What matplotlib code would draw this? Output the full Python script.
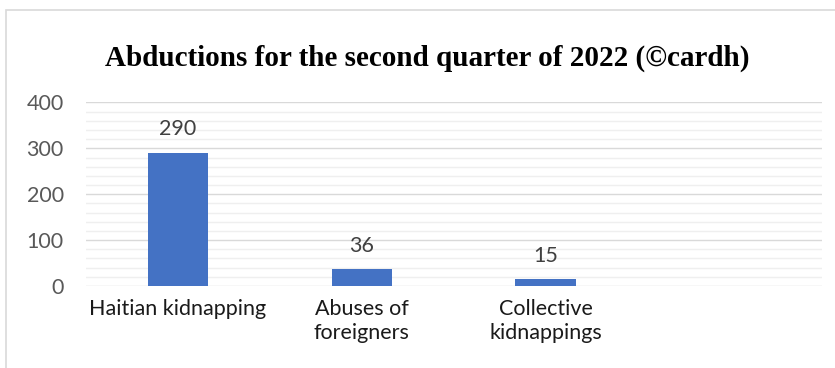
import matplotlib.pyplot as plt
from matplotlib.patches import Rectangle

categories = ['Haitian kidnapping', 'Abuses of\nforeigners', 'Collective\nkidnappings']
values = [290, 36, 15]
title = 'Abductions for the second quarter of 2022 (©cardh)'

fig = plt.figure(figsize=(8.35, 3.68), dpi=100)
fig.patches.append(Rectangle((0.007, -0.05), 1.2, 1.023, transform=fig.transFigure,
                             fill=False, edgecolor='#d9d9d9', linewidth=1.2))

ax = fig.add_axes([0.103, 0.2228, 0.881, 0.4987])
x = list(range(len(categories)))
bars = ax.bar(x, values, width=0.33, color='#4472c4', zorder=3)

for xi, v in zip(x, values):
    ax.annotate(str(v), (xi, v), xytext=(0, 17), textcoords='offset points',
                ha='center', va='center', fontsize=15.5, color='#404040', family='Lato')

ax.set_xlim(-0.5, 3.5)
ax.set_ylim(0, 400)
ax.set_yticks(range(0, 401, 100))
ax.set_yticks(range(0, 401, 20), minor=True)
ax.grid(axis='y', which='major', color='#d9d9d9', linewidth=1, zorder=0)
ax.grid(axis='y', which='minor', color='#efefef', linewidth=1, zorder=0)
ax.set_xticks(x)
ax.set_xticklabels(categories, fontsize=15.5, family='Lato', color='#1a1a1a', linespacing=1.3)
for lab in ax.get_yticklabels():
    lab.set_family('Lato')
ax.tick_params(axis='y', length=0, pad=16, labelsize=15.5, labelcolor='#595959', which='both')
ax.tick_params(axis='x', length=0, pad=9)
for s in ax.spines.values():
    s.set_visible(False)

fig.text(0.512, 0.842, title, ha='center', va='center', fontsize=21, fontweight='bold',
         family='Liberation Serif')

fig.savefig('out.png', dpi=100)
